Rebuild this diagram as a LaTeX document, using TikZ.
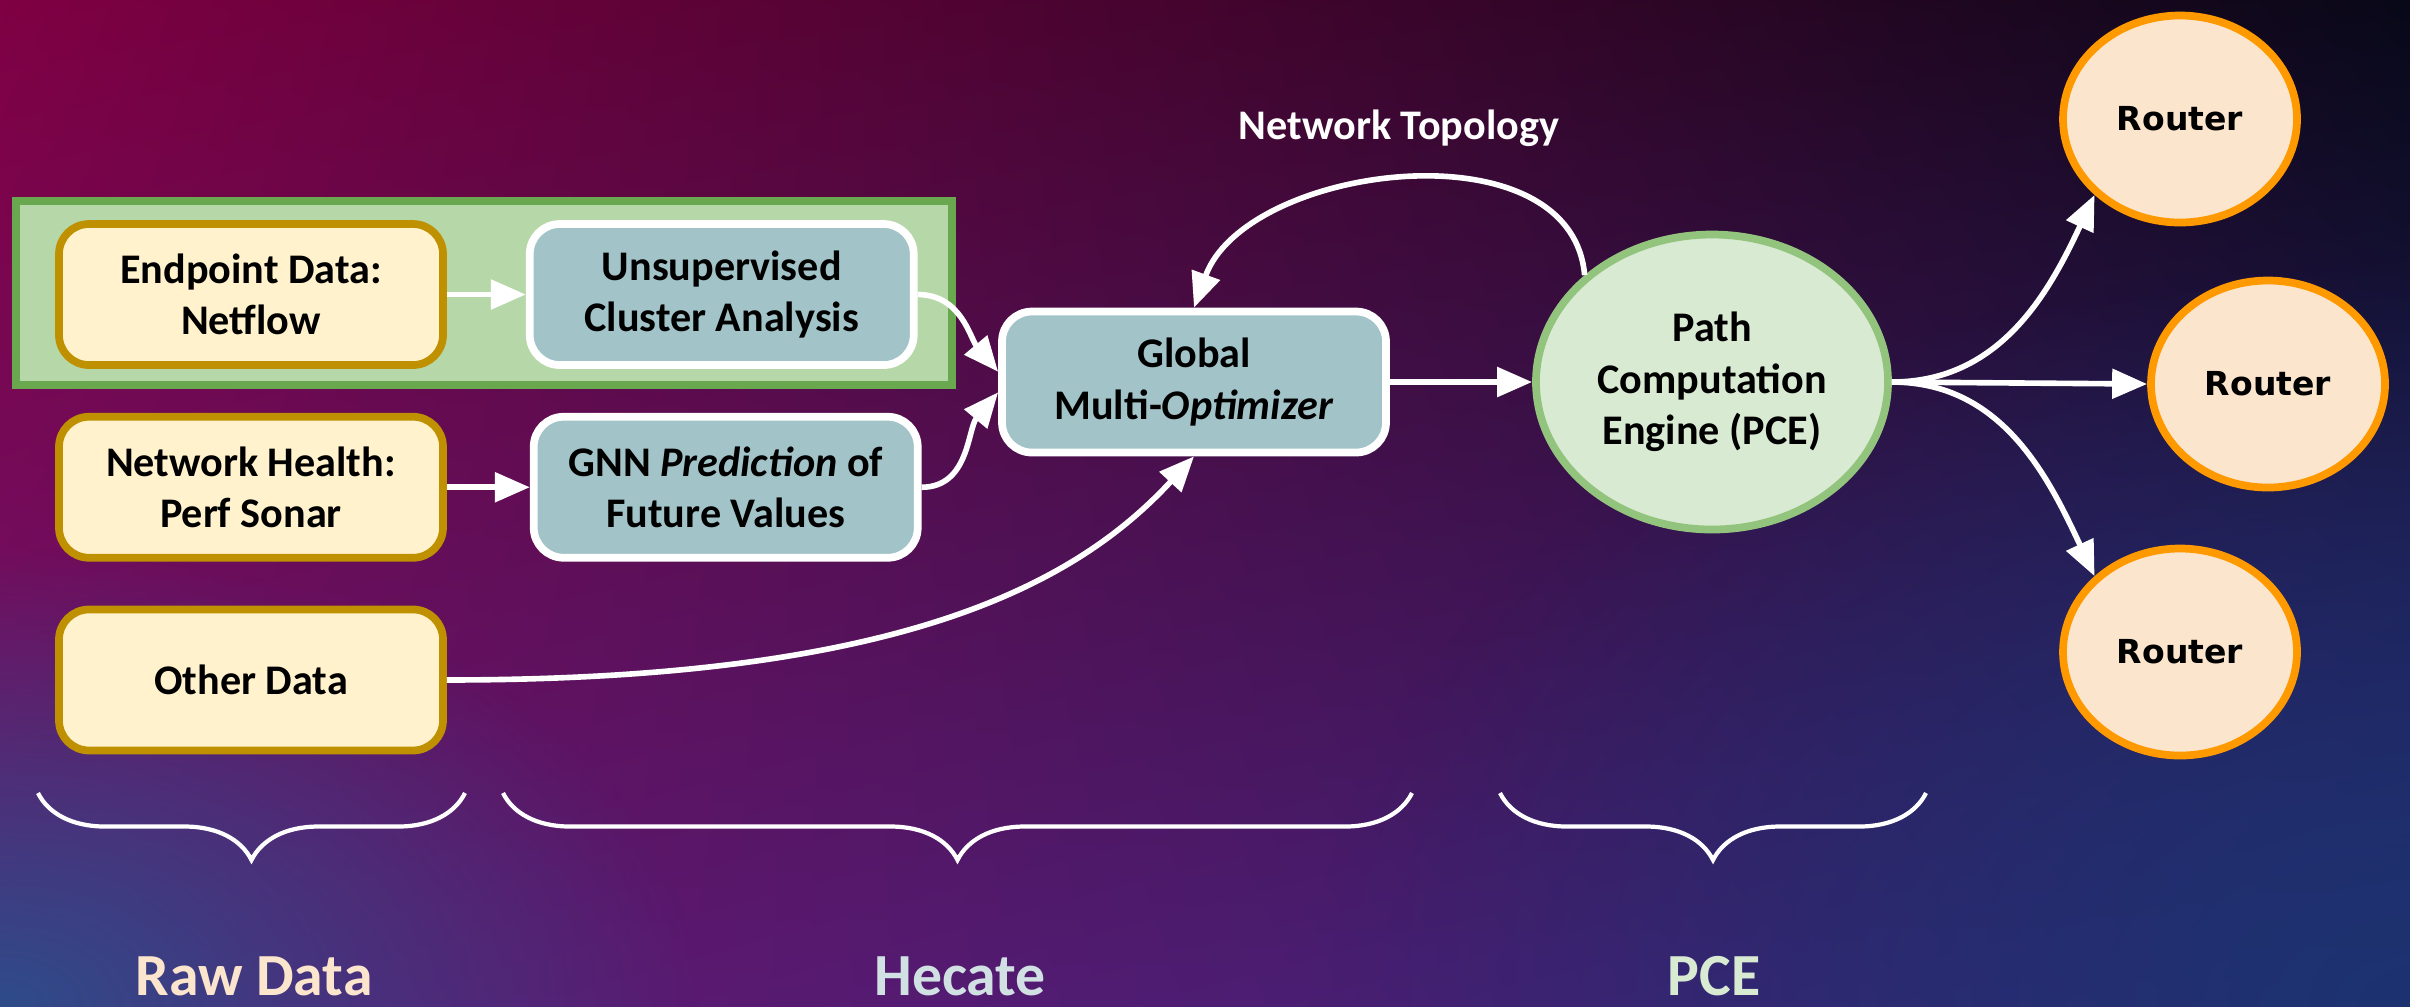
\documentclass[tikz,border=0pt]{standalone}
\usepackage{fontspec}
\setmainfont{Carlito}
\newfontfamily\routerfont{DejaVu Sans}
\usepackage{tikz}
\usetikzlibrary{positioning,shapes.geometric,arrows.meta,decorations.pathreplacing,fadings,shadings}
\usepackage{xcolor}

\definecolor{bgul}{HTML}{7F0043}
\definecolor{bgur}{HTML}{080818}
\definecolor{bgll}{HTML}{6A1570}
\definecolor{bglr}{HTML}{302575}
\definecolor{bgblue}{HTML}{2E4C8A}
\definecolor{bgnavy}{HTML}{1C3370}
\definecolor{rawfill}{HTML}{FFF2CC}
\definecolor{rawedge}{HTML}{BF9000}
\definecolor{hecfill}{HTML}{A2C4C9}
\definecolor{grpfill}{HTML}{B6D7A8}
\definecolor{grpedge}{HTML}{6AA84F}
\definecolor{pcefill}{HTML}{D9EAD3}
\definecolor{pceedge}{HTML}{93C47D}
\definecolor{rtfill}{HTML}{FCE5CD}
\definecolor{rtedge}{HTML}{FF9900}
\definecolor{heclabel}{HTML}{D0E0E3}

\tikzfading[name=glow, inner color=transparent!0, outer color=transparent!100]

\tikzset{
  txt/.style={font=\fontsize{12}{14.6}\selectfont\bfseries, align=center},
  rawbox/.style={txt, draw=rawedge, fill=rawfill, line width=2.2pt, rounded corners=0.3cm,
    minimum width=3.84cm, minimum height=1.41cm},
  hecbox/.style={rawbox, draw=white, fill=hecfill},
  pcenode/.style={txt, ellipse, draw=pceedge, fill=pcefill, line width=2.2pt,
    minimum width=3.52cm, minimum height=2.95cm, inner sep=0pt},
  router/.style={ellipse, draw=rtedge, fill=rtfill, line width=2.2pt,
    minimum width=2.34cm, minimum height=2.07cm, font=\routerfont\fontsize{9.4}{11}\selectfont\bfseries},
  flow/.style={white, line width=1.6pt, -{Triangle[length=0.35cm,width=0.29cm]}},
  partbrace/.style={white, line width=1.2pt, decorate, decoration={brace, mirror, amplitude=0.67cm}},
  partlabel/.style={font=\fontsize{17}{20}\selectfont\bfseries, anchor=base}
}

\begin{document}
\begin{tikzpicture}
\useasboundingbox (0,0) rectangle (24.10,-10.06);

%====================================================
% BACKGROUND
%====================================================
\shade[upper left=bgul, upper right=bgur, lower left=bgll, lower right=bglr] (0,0) rectangle (24.10,-10.06);
\fill[bgblue, path fading=glow] (0,-10.06) ellipse (7 and 4.6);
\fill[bgnavy, path fading=glow] (24.10,-10.06) ellipse (11 and 7.5);

% frame round the netflow branch
\draw[grpedge, fill=grpfill, line width=2.2pt] (0.16,-2.01) rectangle (9.52,-3.85);

%====================================================
% NODES
%====================================================
\node[rawbox] (netflow) at (2.51,-2.945) {Endpoint Data:\\Netflow};
\node[rawbox, below=0.44cm of netflow] (sonar) {Network Health:\\Perf Sonar};
\node[rawbox, below=0.44cm of sonar] (other) {Other Data};

\node[hecbox, right=0.79cm of netflow] (cluster) {Unsupervised\\Cluster Analysis};
\node[hecbox, right=0.83cm of sonar] (gnn) {GNN \textit{Prediction} of\\Future Values};
\node[hecbox] (optim) at (11.94,-3.82) {Global\\Multi-\textit{Optimizer}};

\node[pcenode] (pce) at (17.12,-3.82) {Path\\Computation\\Engine (PCE)};
\node[txt, white] (topo) at (13.99,-1.28) {Network Topology};

\node[router] (r1) at (21.80,-1.19) {Router};
\node[router] (r2) at (22.68,-3.84) {Router};
\node[router] (r3) at (21.80,-6.52) {Router};

%====================================================
% ARROWS
%====================================================
\draw[flow] (netflow) -- (cluster);
\draw[flow] (sonar) -- (gnn);
\draw[flow] (cluster.east) to[out=0,in=130] (optim.177);
\draw[flow] (gnn.east) to[out=0,in=-130] (optim.183);
\draw[flow] (other.east) .. controls +(4.5,0) and +(-1.2,-1.3) .. (optim.south);
\draw[flow] (optim) -- (pce);
\draw[flow] (pce.140) to[out=95,in=70] (optim.north);
\draw[flow] (pce.east) to[out=0,in=-115] (r1.south west);
\draw[flow] (pce.east) -- (r2.west);
\draw[flow] (pce.east) to[out=0,in=115] (r3.north west);

%====================================================
% BRACES AND STAGE NAMES
%====================================================
\draw[partbrace] (0.38,-7.93) -- (4.65,-7.93);
\draw[partbrace] (5.03,-7.93) -- (14.12,-7.93);
\draw[partbrace] (15.00,-7.93) -- (19.26,-7.93);

\node[partlabel, rtfill] (rawlbl) at (2.54,-9.95) {Raw Data};
\node[partlabel, heclabel] (heclbl) at (9.60,-9.95) {Hecate};
\node[partlabel, pcefill] (pcelbl) at (17.14,-9.95) {PCE};
\end{tikzpicture}
\end{document}
